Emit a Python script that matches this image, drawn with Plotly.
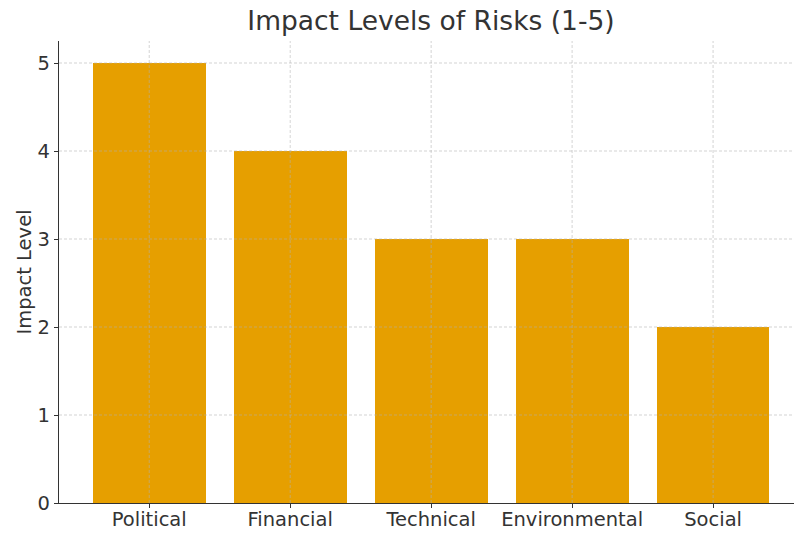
import plotly.graph_objects as go

categories = ["Political", "Financial", "Technical", "Environmental", "Social"]
impact = [5, 4, 3, 3, 2]
y_ticks = [0, 1, 2, 3, 4, 5]

BAR_COLOR = "#E69F00"
TEXT = "#333333"
GRID = "rgba(176,176,176,0.55)"

fig = go.Figure()
fig.add_trace(go.Bar(x=list(range(len(categories))), y=impact, width=0.8,
                     marker=dict(color=BAR_COLOR, line=dict(width=0))))

shapes = []
for t in y_ticks[1:]:
    shapes.append(dict(type="line", xref="x domain", yref="y", x0=0, x1=1, y0=t, y1=t,
                       line=dict(color=GRID, width=1, dash="3px,2px"), layer="above"))
for i in range(len(categories)):
    shapes.append(dict(type="line", xref="x", yref="y domain", x0=i, x1=i, y0=0, y1=1,
                       line=dict(color=GRID, width=1, dash="3px,2px"), layer="above"))

fig.update_layout(
    width=794, height=533,
    margin=dict(l=59, r=0, t=41, b=30),
    paper_bgcolor="white", plot_bgcolor="white",
    font=dict(family="DejaVu Sans", color=TEXT, size=19.5),
    title=dict(text="Impact Levels of Risks (1-5)", x=(431/794), xanchor="center",
               y=1 - 21/533, yanchor="middle", font=dict(size=26.5, color=TEXT)),
    showlegend=False,
    bargap=0,
    shapes=shapes,
    xaxis=dict(range=[-0.64, 4.574], tickmode="array", automargin=False,
               tickvals=list(range(len(categories))), ticktext=categories,
               showgrid=False, zeroline=False, showline=True, linecolor=TEXT, linewidth=1.2,
               ticks="outside", ticklen=4, tickcolor=TEXT, tickwidth=1.2,
               ticklabelstandoff=-6,
               tickfont=dict(size=19.5, color=TEXT)),
    yaxis=dict(range=[0, 5.25], tickmode="array", tickvals=y_ticks, automargin=False,
               showgrid=False, zeroline=False, showline=True, linecolor=TEXT, linewidth=1.2,
               ticks="outside", ticklen=4, tickcolor=TEXT, tickwidth=1.2,
               tickfont=dict(size=19.5, color=TEXT),
               title=dict(text="Impact Level", font=dict(size=19.5, color=TEXT), standoff=0)),
)

fig.write_html("out.html")
